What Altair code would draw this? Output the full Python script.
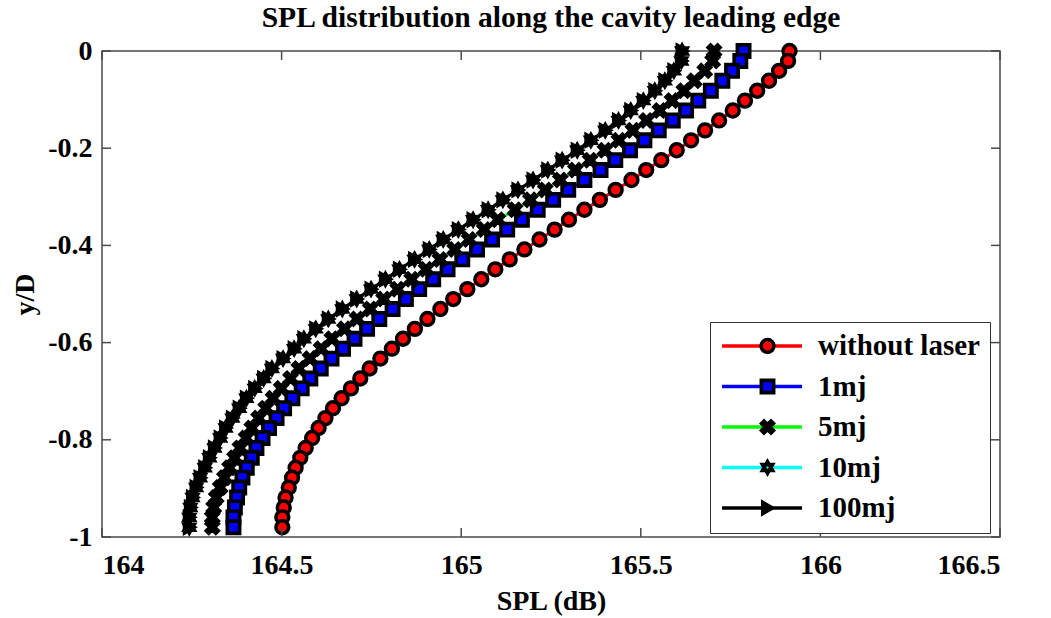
import altair as alt
import pandas as pd

# ---------------- data ----------------
series_names = ["without laser", "1mj", "5mj", "10mj", "100mj"]

y_over_d = [0, -0.0204, -0.0408, -0.0613, -0.0817, -0.1021, -0.1225, -0.1429, -0.1633,
            -0.1838, -0.2042, -0.2246, -0.245, -0.2654, -0.2858, -0.3063, -0.3267,
            -0.3471, -0.3675, -0.3879, -0.4083, -0.4288, -0.4492, -0.4696, -0.49,
            -0.5104, -0.5308, -0.5513, -0.5717, -0.5921, -0.6125, -0.6329, -0.6533,
            -0.6738, -0.6942, -0.7146, -0.735, -0.7554, -0.7758, -0.7963, -0.8167,
            -0.8371, -0.8575, -0.8779, -0.8983, -0.9188, -0.9392, -0.9596, -0.98]

spl_without = [165.914, 165.91, 165.885, 165.857, 165.824, 165.79, 165.756, 165.718, 165.679,
               165.64, 165.60, 165.557, 165.515, 165.474, 165.43, 165.386, 165.343, 165.30,
               165.26, 165.218, 165.176, 165.135, 165.095, 165.056, 165.017, 164.978, 164.942,
               164.906, 164.871, 164.838, 164.807, 164.775, 164.745, 164.719, 164.693, 164.667,
               164.643, 164.622, 164.603, 164.585, 164.567, 164.552, 164.539, 164.529, 164.52,
               164.511, 164.506, 164.502, 164.502]

spl_1mj = [165.786, 165.777, 165.754, 165.727, 165.695, 165.66, 165.626, 165.589, 165.55,
           165.51, 165.47, 165.429, 165.388, 165.343, 165.298, 165.256, 165.213, 165.169,
           165.128, 165.086, 165.044, 165.003, 164.962, 164.922, 164.883, 164.846, 164.809,
           164.772, 164.738, 164.703, 164.671, 164.639, 164.609, 164.58, 164.556, 164.53,
           164.507, 164.486, 164.465, 164.447, 164.43, 164.417, 164.403, 164.391, 164.382,
           164.376, 164.37, 164.366, 164.366]

spl_5mj = [165.704, 165.70, 165.678, 165.649, 165.62, 165.587, 165.553, 165.516, 165.478,
           165.439, 165.40, 165.359, 165.318, 165.276, 165.234, 165.193, 165.15, 165.102,
           165.064, 165.022, 164.982, 164.941, 164.902, 164.862, 164.823, 164.784, 164.747,
           164.71, 164.675, 164.64, 164.61, 164.579, 164.548, 164.525, 164.499, 164.476,
           164.456, 164.436, 164.417, 164.401, 164.384, 164.369, 164.355, 164.341, 164.329,
           164.318, 164.311, 164.307, 164.307]

# 10mj is hidden underneath 100mj in the reference
spl_10mj = [165.615, 165.613, 165.592, 165.567, 165.539, 165.507, 165.472, 165.438, 165.401,
            165.361, 165.323, 165.281, 165.241, 165.20, 165.158, 165.116, 165.075, 165.033,
            164.992, 164.95, 164.911, 164.87, 164.828, 164.789, 164.749, 164.709, 164.669,
            164.63, 164.595, 164.562, 164.535, 164.504, 164.473, 164.45, 164.425, 164.402,
            164.382, 164.363, 164.344, 164.329, 164.313, 164.299, 164.286, 164.273, 164.262,
            164.252, 164.246, 164.243, 164.243]

spl_100mj = [165.615, 165.613, 165.592, 165.567, 165.539, 165.507, 165.472, 165.438, 165.401,
             165.361, 165.323, 165.281, 165.241, 165.20, 165.158, 165.116, 165.075, 165.033,
             164.992, 164.95, 164.911, 164.87, 164.828, 164.789, 164.749, 164.709, 164.669,
             164.63, 164.595, 164.562, 164.535, 164.504, 164.473, 164.45, 164.425, 164.402,
             164.382, 164.363, 164.344, 164.329, 164.313, 164.299, 164.286, 164.273, 164.262,
             164.252, 164.246, 164.243, 164.243]

x_ticks = [164, 164.5, 165, 165.5, 166, 166.5]
y_ticks = [-1, -0.8, -0.6, -0.4, -0.2, 0]

# ---------------- styles ----------------
FONT = "Liberation Serif"
FRAME = "#4a4a4a"
line_colors = ["#ff0000", "#0000ff", "#00ff00", "#00ffff", "#000000"]
fill_colors = ["#ff0000", "#0000ff", "#000000", "#00ffff", "#000000"]
x_path = "M-1,-0.6L-0.6,-1L0,-0.4L0.6,-1L1,-0.6L0.4,0L1,0.6L0.6,1L0,0.4L-0.6,1L-1,0.6L-0.4,0Z"
hexagram = ("M0,-1L0.289,-0.5L0.866,-0.5L0.577,0L0.866,0.5L0.289,0.5L0,1L-0.289,0.5"
            "L-0.866,0.5L-0.577,0L-0.866,-0.5L-0.289,-0.5Z")
shapes = ["circle", "square", x_path, hexagram, "triangle-right"]
sizes = [165, 110, 120, 90, 230]
stroke_widths = [3.5, 4, 1.5, 2, 2]

W, H = 898, 486

# marker-legend keys differ from the line-legend keys (zero-width space) so the two
# legends stay separate and can be stacked on top of each other
marker_keys = [n + "\u200b" for n in series_names]

rows = []
for name, mkey, vals in zip(series_names, marker_keys,
                            [spl_without, spl_1mj, spl_5mj, spl_10mj, spl_100mj]):
    for i, (v, yv) in enumerate(zip(vals, y_over_d)):
        rows.append({"series": name, "mseries": mkey, "spl": v, "yd": yv, "idx": i})
df = pd.DataFrame(rows)

x_scale = alt.Scale(domain=[164, 166.5], nice=False, zero=False)
y_scale = alt.Scale(domain=[-1, 0], nice=False, zero=False)

x_axis = alt.Axis(values=x_ticks, labelExpr="format(datum.value, '')", title="SPL (dB)",
                  labelPadding=14, titlePadding=8, domain=False, ticks=False, grid=False)
y_axis = alt.Axis(values=y_ticks,
                  labelExpr="datum.value == 0 ? '0' : '-' + format(abs(datum.value), '')",
                  title="y/D", labelPadding=10, titlePadding=8, domain=False, ticks=False,
                  grid=False)

LEG_X, LEG_Y = 608, 271
common = dict(orient="none", legendX=LEG_X, legendY=LEG_Y, title=None,
              labelFont=FONT, labelFontSize=29, labelFontWeight="bold",
              labelColor="black", rowPadding=11.5, clipHeight=28, padding=10,
              labelLimit=400)

line_legend = alt.Legend(symbolType="stroke", symbolSize=6400, symbolStrokeWidth=3.5,
                         labelOffset=14, strokeColor="#333333", fillColor="white",
                         **common)
marker_legend = alt.Legend(labelExpr="' '", labelOffset=14, symbolOffset=33, **common)

X = alt.X("spl:Q", scale=x_scale, axis=x_axis)
Y = alt.Y("yd:Q", scale=y_scale, axis=y_axis)

lines = alt.Chart(df).mark_line(strokeWidth=3).encode(
    x=X, y=Y,
    color=alt.Color("series:N", scale=alt.Scale(domain=series_names, range=line_colors),
                    legend=line_legend),
    order=alt.Order("idx:Q"),
)

points = alt.Chart(df).mark_point(filled=True, stroke="black", opacity=1).encode(
    x=X, y=Y,
    fill=alt.Fill("mseries:N", scale=alt.Scale(domain=marker_keys, range=fill_colors),
                  legend=marker_legend),
    shape=alt.Shape("mseries:N", scale=alt.Scale(domain=marker_keys, range=shapes),
                    legend=marker_legend),
    size=alt.Size("mseries:N", scale=alt.Scale(domain=marker_keys, range=sizes),
                  legend=marker_legend),
    strokeWidth=alt.StrokeWidth("mseries:N",
                                scale=alt.Scale(domain=marker_keys, range=stroke_widths),
                                legend=marker_legend),
)

xt = pd.DataFrame({"spl": x_ticks})
yt = pd.DataFrame({"yd": y_ticks})
TL = 9
tick_bottom = alt.Chart(xt).mark_rule(color=FRAME, strokeWidth=1.5).encode(
    x=X, y=alt.value(H), y2=alt.value(H - TL))
tick_top = alt.Chart(xt).mark_rule(color=FRAME, strokeWidth=1.5).encode(
    x=X, y=alt.value(0), y2=alt.value(TL))
tick_left = alt.Chart(yt).mark_rule(color=FRAME, strokeWidth=1.5).encode(
    y=Y, x=alt.value(0), x2=alt.value(TL))
tick_right = alt.Chart(yt).mark_rule(color=FRAME, strokeWidth=1.5).encode(
    y=Y, x=alt.value(W), x2=alt.value(W - TL))

chart = alt.layer(lines, points, tick_bottom, tick_top, tick_left, tick_right).properties(
    width=W, height=H,
    title=alt.TitleParams("SPL distribution along the cavity leading edge", font=FONT,
                          fontSize=29.5, fontWeight="bold", color="black", anchor="middle",
                          offset=4),
    padding={"left": 102, "top": 51, "right": 51, "bottom": 81},
    autosize=alt.AutoSizeParams(type="none"),
    background="white",
).configure_view(stroke=FRAME, strokeWidth=1.5).configure_axis(
    labelFont=FONT, labelFontSize=28, labelFontWeight="bold", labelColor="black",
    titleFont=FONT, titleFontSize=28, titleFontWeight="bold", titleColor="black",
)

chart.save("out.html", embed_options={"renderer": "svg", "actions": False})
